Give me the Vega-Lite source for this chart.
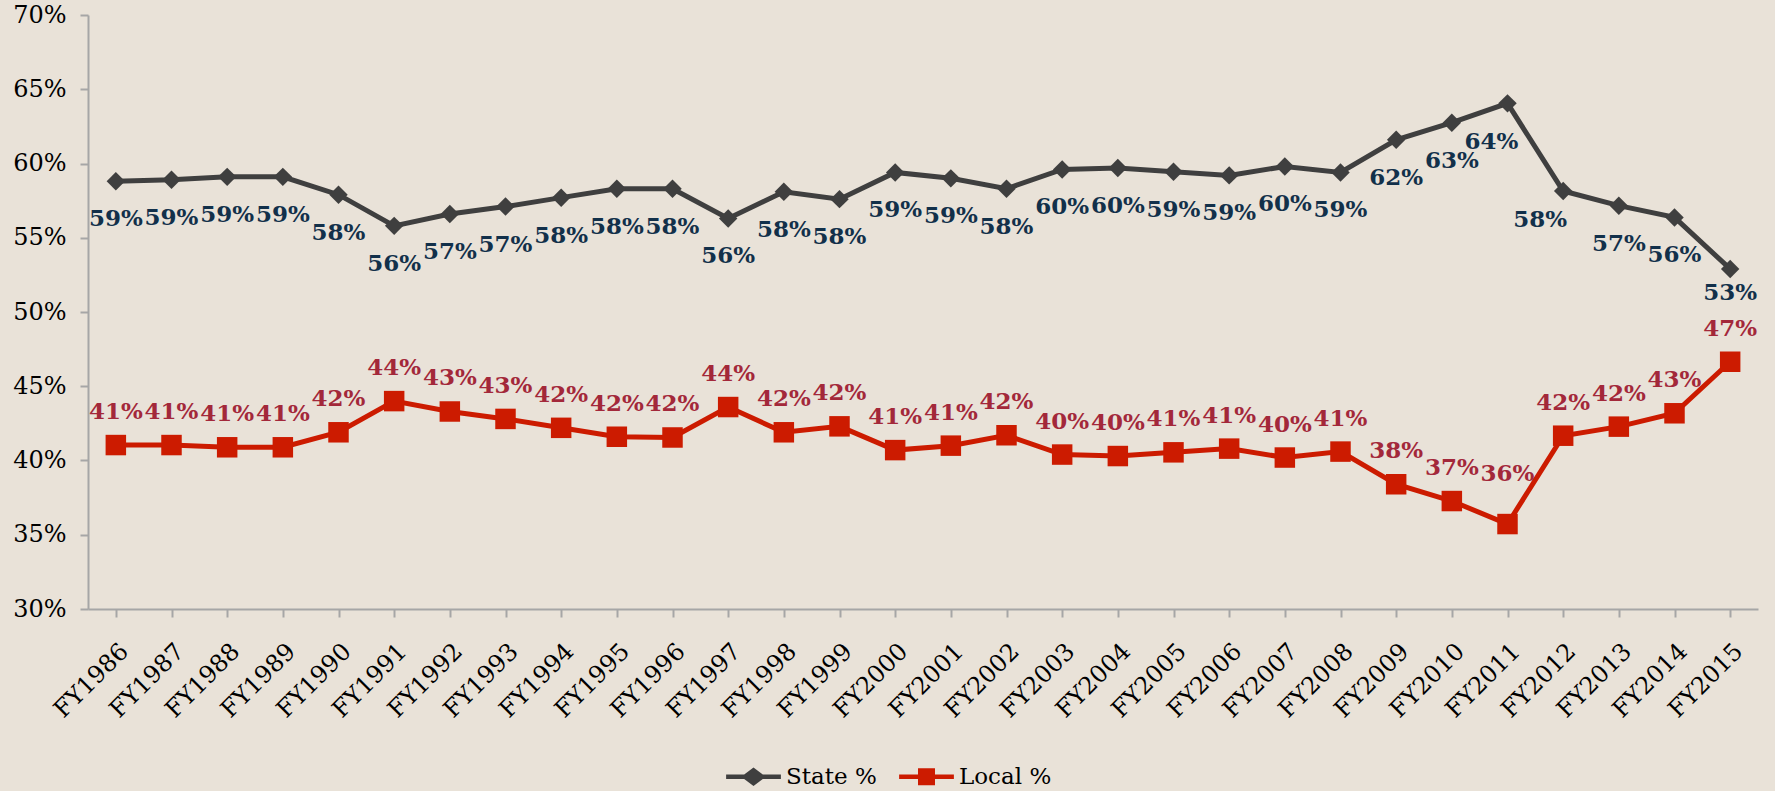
{
  "$schema": "https://vega.github.io/schema/vega-lite/v6.json",
  "autosize": {"type": "none"},
  "padding": {"left": 88, "top": 15, "right": 17, "bottom": 182},
  "width": 1670,
  "height": 594,
  "background": "#E9E2D8",
  "config": {
    "view": {"stroke": null},
    "font": "DejaVu Serif"
  },
  "data": {
    "values": [
      {"year": "FY1986", "series": "State %", "value": 0.588},
      {"year": "FY1987", "series": "State %", "value": 0.589},
      {"year": "FY1988", "series": "State %", "value": 0.591},
      {"year": "FY1989", "series": "State %", "value": 0.591},
      {"year": "FY1990", "series": "State %", "value": 0.579},
      {"year": "FY1991", "series": "State %", "value": 0.558},
      {"year": "FY1992", "series": "State %", "value": 0.566},
      {"year": "FY1993", "series": "State %", "value": 0.571},
      {"year": "FY1994", "series": "State %", "value": 0.577},
      {"year": "FY1995", "series": "State %", "value": 0.583},
      {"year": "FY1996", "series": "State %", "value": 0.583},
      {"year": "FY1997", "series": "State %", "value": 0.563},
      {"year": "FY1998", "series": "State %", "value": 0.581},
      {"year": "FY1999", "series": "State %", "value": 0.576},
      {"year": "FY2000", "series": "State %", "value": 0.594},
      {"year": "FY2001", "series": "State %", "value": 0.590},
      {"year": "FY2002", "series": "State %", "value": 0.583},
      {"year": "FY2003", "series": "State %", "value": 0.596},
      {"year": "FY2004", "series": "State %", "value": 0.597},
      {"year": "FY2005", "series": "State %", "value": 0.5945},
      {"year": "FY2006", "series": "State %", "value": 0.592},
      {"year": "FY2007", "series": "State %", "value": 0.598},
      {"year": "FY2008", "series": "State %", "value": 0.594},
      {"year": "FY2009", "series": "State %", "value": 0.616},
      {"year": "FY2010", "series": "State %", "value": 0.6275},
      {"year": "FY2011", "series": "State %", "value": 0.6405},
      {"year": "FY2012", "series": "State %", "value": 0.5815},
      {"year": "FY2013", "series": "State %", "value": 0.5716},
      {"year": "FY2014", "series": "State %", "value": 0.5637},
      {"year": "FY2015", "series": "State %", "value": 0.529},
      {"year": "FY1986", "series": "Local %", "value": 0.4104},
      {"year": "FY1987", "series": "Local %", "value": 0.4104},
      {"year": "FY1988", "series": "Local %", "value": 0.4089},
      {"year": "FY1989", "series": "Local %", "value": 0.4089},
      {"year": "FY1990", "series": "Local %", "value": 0.419},
      {"year": "FY1991", "series": "Local %", "value": 0.440},
      {"year": "FY1992", "series": "Local %", "value": 0.433},
      {"year": "FY1993", "series": "Local %", "value": 0.428},
      {"year": "FY1994", "series": "Local %", "value": 0.422},
      {"year": "FY1995", "series": "Local %", "value": 0.416},
      {"year": "FY1996", "series": "Local %", "value": 0.4155},
      {"year": "FY1997", "series": "Local %", "value": 0.436},
      {"year": "FY1998", "series": "Local %", "value": 0.419},
      {"year": "FY1999", "series": "Local %", "value": 0.423},
      {"year": "FY2000", "series": "Local %", "value": 0.407},
      {"year": "FY2001", "series": "Local %", "value": 0.410},
      {"year": "FY2002", "series": "Local %", "value": 0.417},
      {"year": "FY2003", "series": "Local %", "value": 0.404},
      {"year": "FY2004", "series": "Local %", "value": 0.403},
      {"year": "FY2005", "series": "Local %", "value": 0.4055},
      {"year": "FY2006", "series": "Local %", "value": 0.408},
      {"year": "FY2007", "series": "Local %", "value": 0.402},
      {"year": "FY2008", "series": "Local %", "value": 0.406},
      {"year": "FY2009", "series": "Local %", "value": 0.384},
      {"year": "FY2010", "series": "Local %", "value": 0.3727},
      {"year": "FY2011", "series": "Local %", "value": 0.3572},
      {"year": "FY2012", "series": "Local %", "value": 0.4167},
      {"year": "FY2013", "series": "Local %", "value": 0.4228},
      {"year": "FY2014", "series": "Local %", "value": 0.4318},
      {"year": "FY2015", "series": "Local %", "value": 0.4665}
    ]
  },
  "encoding": {
    "x": {
      "field": "year", "type": "nominal", "sort": null, "title": null,
      "scale": {"paddingInner": 0, "paddingOuter": 0},
      "axis": {
        "labelAngle": -45, "labelAlign": "right", "labelBaseline": "top",
        "labelFont": "DejaVu Serif", "labelFontSize": 24, "labelColor": "#000000",
        "labelPadding": 22, "tickSize": 8, "tickWidth": 2, "tickColor": "#A6A6A6",
        "domainColor": "#A6A6A6", "domainWidth": 2, "bandPosition": 0, "grid": false
      }
    },
    "y": {
      "field": "value", "type": "quantitative", "title": null,
      "scale": {"domain": [0.3, 0.7], "nice": false, "zero": false},
      "axis": {
        "values": [0.3, 0.35, 0.4, 0.45, 0.5, 0.55, 0.6, 0.65, 0.7],
        "format": ".0%", "labelFont": "DejaVu Serif", "labelFontSize": 24,
        "labelColor": "#000000", "labelPadding": 14, "tickSize": 8, "tickWidth": 2,
        "tickColor": "#A6A6A6", "domainColor": "#A6A6A6", "domainWidth": 2, "grid": false
      }
    }
  },
  "layer": [
    {
      "mark": {"type": "line", "strokeWidth": 5},
      "encoding": {
        "color": {
          "field": "series", "type": "nominal",
          "scale": {"domain": ["State %", "Local %"], "range": ["#3F3F3F", "#CC1B00"]},
          "legend": {
            "orient": "none", "legendX": 638, "legendY": 734, "direction": "horizontal",
            "title": null, "labelFont": "DejaVu Serif", "labelFontSize": 23, "labelColor": "#000000",
            "symbolSize": 3000, "symbolType": "M-1,-0.08H-0.34L0,-0.34L0.34,-0.08H1V0.08H0.34L0,0.34L-0.34,0.08H-1Z",
            "columnPadding": 22, "labelOffset": 5,
            "encode": {
              "symbols": {
                "update": {
                  "shape": [
                    {"test": "datum.value === 'State %'", "value": "M-1,-0.08H-0.34L0,-0.34L0.34,-0.08H1V0.08H0.34L0,0.34L-0.34,0.08H-1Z"},
                    {"value": "M-1,-0.08H-0.31V-0.31H0.31V-0.08H1V0.08H0.31V0.31H-0.31V0.08H-1Z"}
                  ],
                  "fill": [
                    {"test": "datum.value === 'State %'", "value": "#3F3F3F"},
                    {"value": "#CC1B00"}
                  ],
                  "stroke": {"value": "transparent"},
                  "strokeWidth": {"value": 0},
                  "opacity": {"value": 1}
                }
              }
            }
          }
        }
      }
    },
    {
      "transform": [{"filter": "datum.series === 'State %'"}],
      "mark": {"type": "point", "filled": true, "opacity": 1, "shape": "diamond", "size": 340, "color": "#3F3F3F"}
    },
    {
      "transform": [{"filter": "datum.series === 'Local %'"}],
      "mark": {"type": "point", "filled": true, "opacity": 1, "shape": "square", "size": 420, "color": "#CC1B00"}
    },
    {
      "transform": [{"filter": "datum.series === 'State %' && indexof(['FY2011', 'FY2012', 'FY2015'], datum.year) < 0"}],
      "mark": {"type": "text", "font": "DejaVu Serif", "fontWeight": "bold", "fontSize": 23, "color": "#12304A", "baseline": "middle", "dy": 38},
      "encoding": {"text": {"field": "value", "type": "quantitative", "format": ".0%"}}
    },
    {
      "transform": [{"filter": "datum.series === 'State %' && datum.year === 'FY2011'"}],
      "mark": {"type": "text", "font": "DejaVu Serif", "fontWeight": "bold", "fontSize": 23, "color": "#12304A", "baseline": "middle", "dy": 39, "dx": -16},
      "encoding": {"text": {"field": "value", "type": "quantitative", "format": ".0%"}}
    },
    {
      "transform": [{"filter": "datum.series === 'State %' && datum.year === 'FY2012'"}],
      "mark": {"type": "text", "font": "DejaVu Serif", "fontWeight": "bold", "fontSize": 23, "color": "#12304A", "baseline": "middle", "dy": 29, "dx": -23},
      "encoding": {"text": {"field": "value", "type": "quantitative", "format": ".0%"}}
    },
    {
      "transform": [{"filter": "datum.series === 'State %' && datum.year === 'FY2015'"}],
      "mark": {"type": "text", "font": "DejaVu Serif", "fontWeight": "bold", "fontSize": 23, "color": "#12304A", "baseline": "middle", "dy": 24},
      "encoding": {"text": {"field": "value", "type": "quantitative", "format": ".0%"}}
    },
    {
      "transform": [{"filter": "datum.series === 'Local %' && datum.year !== 'FY2011'"}],
      "mark": {"type": "text", "font": "DejaVu Serif", "fontWeight": "bold", "fontSize": 23, "color": "#A3283A", "baseline": "middle", "dy": -33},
      "encoding": {"text": {"field": "value", "type": "quantitative", "format": ".0%"}}
    },
    {
      "transform": [{"filter": "datum.series === 'Local %' && datum.year === 'FY2011'"}],
      "mark": {"type": "text", "font": "DejaVu Serif", "fontWeight": "bold", "fontSize": 23, "color": "#A3283A", "baseline": "middle", "dy": -50},
      "encoding": {"text": {"field": "value", "type": "quantitative", "format": ".0%"}}
    }
  ]
}
